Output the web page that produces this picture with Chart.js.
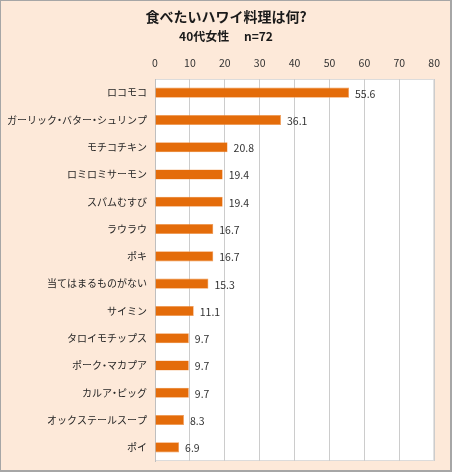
<!DOCTYPE html>
<html>
<head>
<meta charset="utf-8">
<script src="https://cdn.jsdelivr.net/npm/chart.js@4.4.0/dist/chart.umd.min.js"></script>
<style>
  html, body { margin: 0; padding: 0; }
  #wrap {
    width: 452px; height: 472px; box-sizing: border-box;
    border: 1px solid #a6a6a6; border-right-width: 2px; border-bottom-width: 2px;
    background: #fde9d9;
  }
  canvas { display: block; }
</style>
</head>
<body>
<div id="wrap"><canvas id="chart" width="449" height="469"></canvas></div>
<script>
// 食べたいハワイ料理 (40代女性 n=72)
const categories = [
  "ロコモコ", "ガーリック・バター・シュリンプ", "モチコチキン", "ロミロミサーモン",
  "スパムむすび", "ラウラウ", "ポキ", "当てはまるものがない", "サイミン",
  "タロイモチップス", "ポーク・マカプア", "カルア・ピッグ", "オックステールスープ", "ポイ"
]
const values = [55.6, 36.1, 20.8, 19.4, 19.4, 16.7, 16.7, 15.3, 11.1, 9.7, 9.7, 9.7, 8.3, 6.9]
const axisMin = 0
const axisMax = 80
const axisStep = 10

const titleText = "食べたいハワイ料理は何?"
const subtitleText = "40代女性　 n=72"

const jpFont = "'Noto Sans CJK JP', 'Noto Sans', sans-serif"

// category label with a narrow middle dot, right-aligned at x
function drawCategory(ctx, text, x, y){
  const parts = text.split("・")
  const dotW = 5
  let w = parts.reduce((s, p) => s + ctx.measureText(p).width, 0) + dotW * (parts.length - 1)
  let cur = x - w
  ctx.textAlign = "left"
  parts.forEach((p, k) => {
    ctx.fillText(p, cur, y)
    cur += ctx.measureText(p).width
    if (k < parts.length - 1){
      ctx.beginPath()
      ctx.arc(cur + dotW / 2, y, 1.1, 0, Math.PI * 2)
      ctx.fill()
      cur += dotW
    }
  })
}

// white plot area + headings + category and value labels
const decor = {
  id: "decor",
  beforeDraw(chart){
    const { ctx, chartArea: a } = chart
    ctx.save()
    ctx.fillStyle = "#ffffff"
    ctx.fillRect(a.left, a.top, a.right - a.left, a.bottom - a.top)
    ctx.strokeStyle = "#dcdcdc"
    ctx.lineWidth = 1
    ctx.strokeRect(a.left + 0.5, a.top + 0.5, a.right - a.left - 1, a.bottom - a.top - 1)
    ctx.restore()
  },
  afterDraw(chart){
    const { ctx, chartArea: a } = chart
    const cx = 225
    ctx.save()
    ctx.fillStyle = "#1a1a1a"
    ctx.textAlign = "center"
    ctx.textBaseline = "middle"
    ctx.font = "bold 14px " + jpFont
    ctx.fillText(titleText, cx, 16)
    ctx.font = "bold 12px " + jpFont
    ctx.fillText(subtitleText, cx, 35)

    ctx.font = "10px " + jpFont
    ctx.fillStyle = "#262626"
    const yScale = chart.scales.y
    categories.forEach((c, i) => {
      drawCategory(ctx, c, a.left - 8, yScale.getPixelForTick(i))
    })

    ctx.font = "10.5px " + jpFont
    ctx.fillStyle = "#333333"
    ctx.textAlign = "left"
    const meta = chart.getDatasetMeta(0)
    meta.data.forEach((bar, i) => {
      ctx.fillText(values[i].toFixed(1), bar.x + 6, bar.y + 1)
    })
    ctx.restore()
  }
}

new Chart(document.getElementById("chart"), {
  type: "bar",
  data: {
    labels: categories,
    datasets: [{
      data: values,
      backgroundColor: "#e46c0a",
      borderColor: "#f39a55",
      borderWidth: 0.6,
      barPercentage: 0.37,
      categoryPercentage: 1.0
    }]
  },
  options: {
    indexAxis: "y",
    responsive: false,
    animation: false,
    layout: { padding: { top: 51, right: 14, bottom: 9, left: 0 } },
    plugins: {
      legend: { display: false },
      title: { display: false },
      tooltip: { enabled: false }
    },
    scales: {
      x: {
        position: "top",
        min: axisMin,
        max: axisMax,
        ticks: { stepSize: axisStep, color: "#333333", font: { size: 10.5, family: jpFont }, padding: 10 },
        grid: { color: "#cccccc", drawTicks: false },
        border: { display: false },
        afterFit(scale){ scale.height = 27 }
      },
      y: {
        ticks: { display: false },
        grid: { display: false, drawTicks: false },
        border: { display: true, color: "#bfbfbf" },
        afterFit(scale){ scale.width = 154 }
      }
    }
  },
  plugins: [decor]
})
</script>
</body>
</html>
